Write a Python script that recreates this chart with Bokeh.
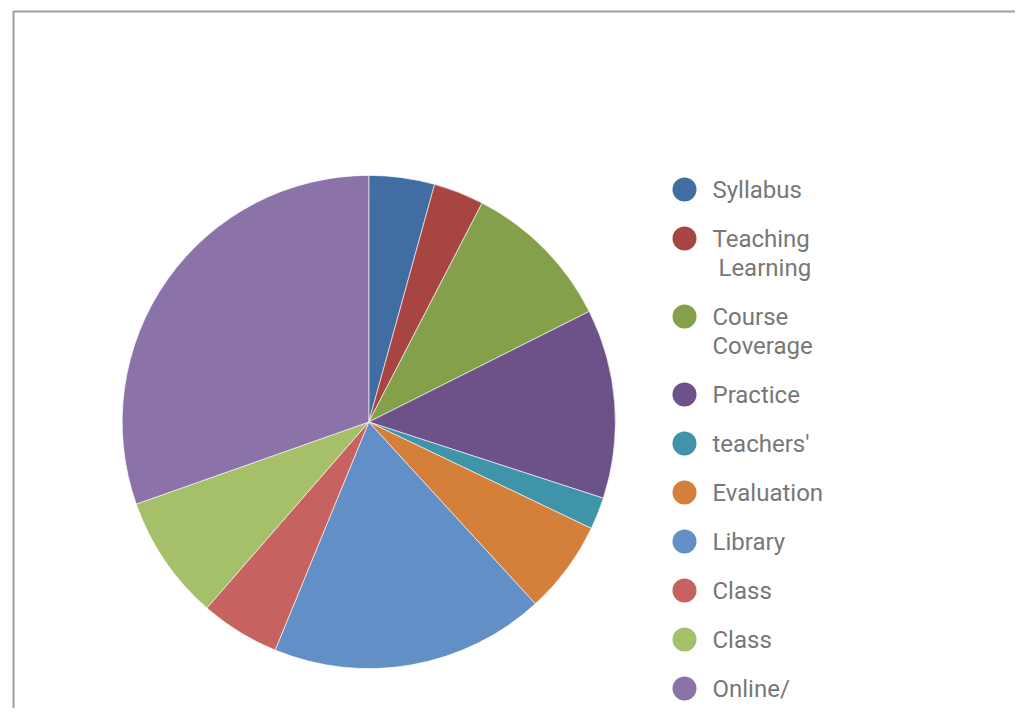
import math
from bokeh.plotting import figure
from bokeh.models import Range1d, ColumnDataSource
from bokeh.core.properties import value
from bokeh.embed import file_html
from bokeh.resources import INLINE

# ---- data ----
categories = ["Syllabus", "Teaching\n Learning", "Course\nCoverage", "Practice", "teachers'",
              "Evaluation", "Library", "Class", "Class", "Online/"]
shares = [4.3, 3.3, 10.0, 12.4, 2.1, 6.1, 18.0, 5.2, 8.2, 30.4]
colors = ["#406DA2", "#A64542", "#85A04B", "#6C5289", "#3F94AA",
          "#D4803A", "#6290C6", "#C6625F", "#A6BF69", "#8B73A9"]

W, H = 1015, 708
p = figure(width=W, height=H, output_backend="svg", toolbar_location=None,
           x_range=Range1d(0, W), y_range=Range1d(0, H), min_border=0)
p.axis.visible = False
p.grid.visible = False
p.outline_line_color = None
p.background_fill_color = "white"
p.border_fill_color = "white"

# frame (partially visible, as in the reference)
p.line(x=[13, 13, W], y=[0, 697, 697], line_color="#9e9e9e", line_width=2)

# pie
total = float(sum(shares))
starts, ends = [], []
cum = 0.0
for s in shares:
    starts.append(math.pi / 2 - 2 * math.pi * cum / total)
    cum += s
    ends.append(math.pi / 2 - 2 * math.pi * cum / total)
src = ColumnDataSource(dict(start=starts, end=ends, color=colors))
cx, cy, r = 368.3, 286.5, 246.6
p.wedge(x=cx, y=cy, radius=r, start_angle="start", end_angle="end", direction="clock",
        fill_color="color", line_color="white", line_width=0.6, source=src)

# legend
mx, tx = 684, 712
y0 = 708 - 189
step, lh = 49, 29
mk_x, mk_y, mk_c = [], [], []
tl_x, tl_y, tl_t = [], [], []
y = y0
for lab, c in zip(categories, colors):
    lines = lab.split("\n")
    mk_x.append(mx); mk_y.append(y); mk_c.append(c)
    for j, ln in enumerate(lines):
        tl_x.append(tx)
        tl_y.append(y - j * lh)
        tl_t.append(ln.replace(" ", "\u00a0") if ln.startswith(" ") else ln)
    y -= step + lh * (len(lines) - 1)

p.scatter(x=mk_x, y=mk_y, size=24, marker="circle", fill_color=mk_c, line_color=None)
p.text(x=tl_x, y=tl_y, text=tl_t, text_font=value("Roboto"), text_font_size="24px",
       text_color="#777777", text_baseline="middle", text_align="left")

open("out.html", "w").write(file_html(p, INLINE))
